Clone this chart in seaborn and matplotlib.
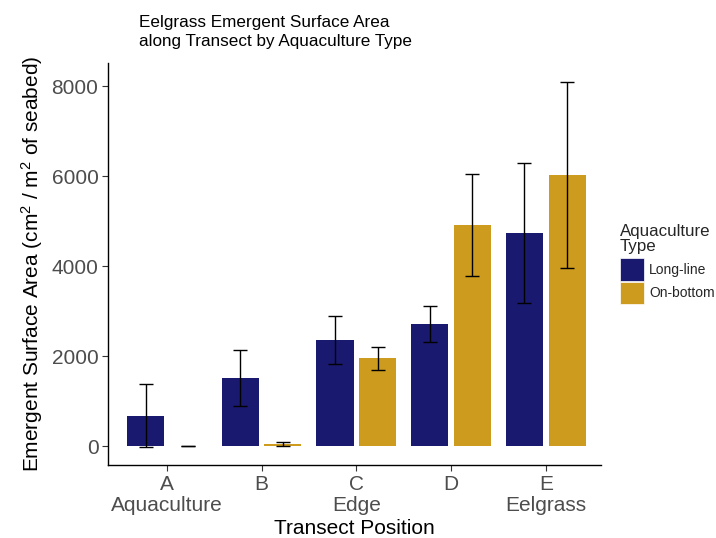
import numpy as np
import pandas as pd
import seaborn as sns
import matplotlib
matplotlib.use("Agg")
import matplotlib.pyplot as plt
from matplotlib.patches import Patch

positions = ["A", "B", "C", "D", "E"]
tick_labels = ["A\nAquaculture", "B", "C\nEdge", "D", "E\nEelgrass"]
types = ["Long-line", "On-bottom"]
longline_mean = [684, 1515, 2360, 2718, 4740]
longline_se = [691, 622, 536, 400, 1553]
onbottom_mean = [0, 50, 1955, 4920, 6025]
onbottom_se = [0, 45, 260, 1130, 2070]
colors = {"Long-line": "#191970", "On-bottom": "#CD9B1D"}

df = pd.DataFrame({
    "Position": positions * 2,
    "Type": [types[0]] * 5 + [types[1]] * 5,
    "Area": longline_mean + onbottom_mean,
    "SE": longline_se + onbottom_se,
})

sns.set_theme(style="white")
plt.rcParams["font.family"] = ["Liberation Sans", "DejaVu Sans"]
plt.rcParams["mathtext.fontset"] = "custom"
plt.rcParams["mathtext.rm"] = "Liberation Sans"
plt.rcParams["mathtext.it"] = "Liberation Sans"
plt.rcParams["mathtext.default"] = "rm"

fig = plt.figure(figsize=(7.16, 5.38), dpi=100)
ax = fig.add_axes([0.151, 0.1357, 0.688, 0.7463])

sns.barplot(data=df, x="Position", y="Area", hue="Type", order=positions,
            hue_order=types, palette=colors, saturation=1, width=0.9, gap=0.13,
            errorbar=None, linewidth=0, legend=False, ax=ax)

# error bars at the dodged bar centres
for j, t in enumerate(types):
    sub = df[df["Type"] == t].set_index("Position").loc[positions]
    xs = np.arange(len(positions)) + (-0.225 if j == 0 else 0.225)
    ax.errorbar(xs, sub["Area"], yerr=sub["SE"], fmt="none", ecolor="black",
                elinewidth=1.0, capsize=5, capthick=1.0, zorder=5)

ax.set_xlim(-0.62, 4.58)
ax.set_ylim(-412, 8501)
ax.set_yticks([0, 2000, 4000, 6000, 8000])
ax.set_xticks(range(5))
ax.set_xticklabels(tick_labels, linespacing=1.15)
ax.tick_params(axis="both", which="both", length=4, width=0.8, color="#333333",
               labelsize=15, labelcolor="#4D4D4D", pad=3, bottom=True, left=True)
for side in ["top", "right"]:
    ax.spines[side].set_visible(False)
for side in ["left", "bottom"]:
    ax.spines[side].set_color("black")
    ax.spines[side].set_linewidth(1.0)

ax.set_xlabel("Transect Position", fontsize=15, color="black", labelpad=3)
ax.set_ylabel(r"Emergent Surface Area (cm$^{2}$ / m$^{2}$ of seabed)",
              fontsize=15, color="black", labelpad=5)

fig.text(139 / 716, 1 - 15 / 538,
         "Eelgrass Emergent Surface Area\nalong Transect by Aquaculture Type",
         ha="left", va="top", fontsize=12.3, color="black", linespacing=1.3)

handles = [Patch(facecolor=colors[t], edgecolor="white", linewidth=0.5, label=t)
           for t in types]
leg = fig.legend(handles=handles, title="Aquaculture\nType",
                 loc="upper left", bbox_to_anchor=(620 / 716, 1 - 224 / 538),
                 frameon=False, fontsize=10, title_fontsize=12.2,
                 handlelength=1.75, handleheight=2.1, handletextpad=0.35,
                 labelspacing=0.1, borderaxespad=0, borderpad=0)
leg._legend_box.align = "left"
leg._legend_box.sep = 3
leg.get_title().set_linespacing(1.0)

fig.savefig("out.png", dpi=100)
